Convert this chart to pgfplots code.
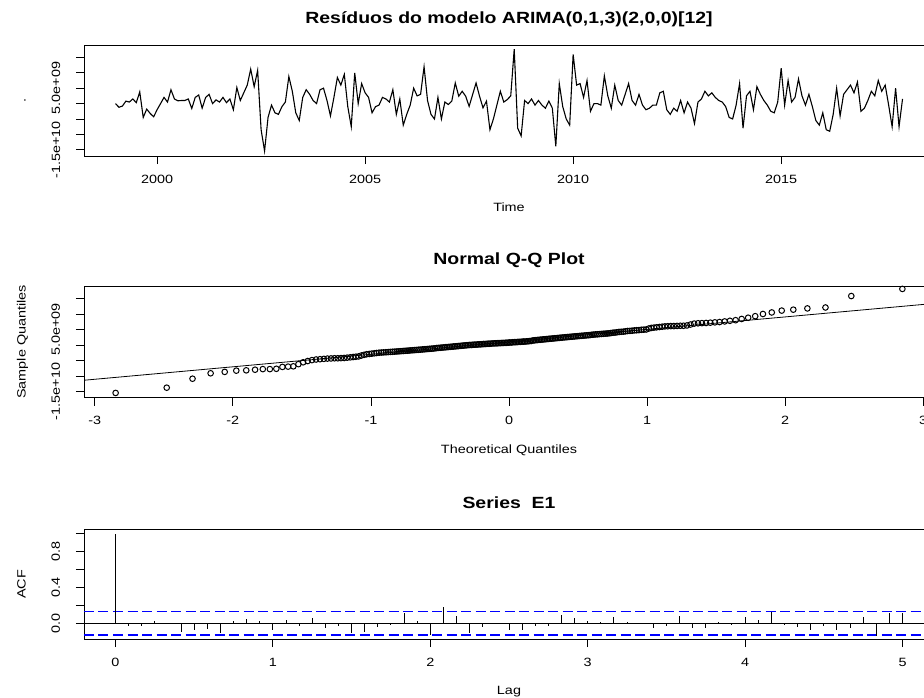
\documentclass[border=0pt]{standalone}
\usepackage{fontspec}
\setmainfont{Liberation Sans}[FakeStretch=1.2]
\usepackage{pgfplots}
\pgfplotsset{compat=1.18}
\usepackage{pgfplotstable}

% residuos mensais 1999-2017 (em 1e9)
\pgfplotstableread[row sep=\\]{
v\\
0.0\\ -1.2\\ -0.8\\ 0.8\\ 0.5\\ 1.5\\ 0.3\\ 3.8\\ -4.5\\ -1.8\\ -3.2\\ -4.3\\
-2.0\\ 0.0\\ 2.0\\ 0.5\\ 4.5\\ 1.5\\ 0.9\\ 1.0\\ 1.0\\ 1.5\\ -1.6\\ 2.0\\
2.8\\ -1.5\\ 2.0\\ 3.0\\ 0.0\\ 1.2\\ 0.5\\ 2.0\\ 0.3\\ 1.5\\ -2.0\\ 5.2\\
1.0\\ 3.5\\ 6.0\\ 11.2\\ 5.5\\ 10.8\\ -8.5\\ -15.4\\ -4.5\\ -0.5\\ -3.0\\ -3.5\\
-1.0\\ 0.5\\ 8.8\\ 4.0\\ -3.0\\ -5.5\\ 2.0\\ 4.5\\ 3.0\\ 1.0\\ 0.0\\ 4.5\\
5.0\\ 1.0\\ -4.0\\ 2.0\\ 8.5\\ 6.0\\ 9.5\\ -1.0\\ -7.5\\ 10.0\\ 0.0\\ 6.5\\
3.5\\ 2.0\\ -3.0\\ -1.0\\ -0.5\\ 2.0\\ 1.5\\ 0.5\\ 4.5\\ -3.5\\ 1.5\\ -7.0\\
-3.5\\ -0.5\\ 5.0\\ 2.5\\ 3.0\\ 12.0\\ 1.0\\ -3.5\\ -5.0\\ 2.0\\ -5.0\\ 0.5\\
-0.3\\ 0.8\\ 6.7\\ 2.4\\ 4.0\\ 2.4\\ -0.9\\ 2.9\\ 6.7\\ 2.4\\ -1.4\\ 0.8\\
-8.5\\ -5.0\\ -0.5\\ 4.0\\ 0.5\\ 1.3\\ 2.5\\ 17.7\\ -8.0\\ -10.5\\ 1.0\\ 0.0\\
1.5\\ -0.5\\ 1.0\\ -0.5\\ -1.5\\ 0.8\\ -1.5\\ -13.9\\ 6.5\\ -1.0\\ -5.0\\ -7.0\\
16.0\\ 6.0\\ 6.5\\ 2.0\\ 7.5\\ -2.5\\ 0.0\\ 0.0\\ -0.5\\ 9.0\\ 2.5\\ -1.5\\
6.0\\ 1.0\\ -0.5\\ 3.0\\ 6.5\\ 1.0\\ -0.5\\ 3.0\\ -0.5\\ -2.0\\ -1.5\\ -0.5\\
-0.5\\ 3.5\\ 4.0\\ -2.0\\ -3.5\\ -1.5\\ -2.5\\ 1.0\\ -3.0\\ 0.5\\ -1.5\\ -6.5\\
0.5\\ 1.5\\ 4.0\\ 2.5\\ 3.5\\ 2.0\\ 1.0\\ 0.5\\ -1.0\\ -4.5\\ -5.0\\ -0.5\\
6.5\\ -8.0\\ 2.5\\ 4.0\\ -2.0\\ 5.5\\ 3.0\\ 1.0\\ -0.5\\ -2.5\\ -3.0\\ 0.5\\
11.5\\ -0.5\\ 7.5\\ 0.5\\ 2.0\\ 8.0\\ 2.5\\ -0.5\\ 3.0\\ -1.0\\ -5.5\\ -7.0\\
-3.0\\ -8.5\\ -9.0\\ -3.5\\ 5.0\\ -4.0\\ 3.0\\ 4.5\\ 6.0\\ 3.5\\ 7.0\\ -2.5\\
-1.5\\ 1.0\\ 4.0\\ 2.5\\ 7.5\\ 4.0\\ 6.0\\ -0.5\\ -7.5\\ 5.0\\ -7.5\\ 1.5\\
}\resid

% quantis teoricos x quantis amostrais (em 1e9)
\pgfplotstableread[row sep=\\]{
q v\\
-2.849 -15.5\\ -2.479 -13.8\\ -2.292 -10.9\\ -2.161 -9.15\\ -2.059 -8.7\\ -1.975 -8.3\\
-1.903 -8.2\\ -1.839 -8.0\\ -1.783 -7.8\\ -1.732 -7.8\\ -1.685 -7.7\\ -1.641 -7.1\\
-1.600 -7.0\\ -1.562 -6.9\\ -1.525 -6.2\\ -1.491 -5.6\\ -1.458 -5.2\\ -1.427 -4.9\\
-1.397 -4.7\\ -1.369 -4.6\\ -1.341 -4.5\\ -1.315 -4.4\\ -1.289 -4.35\\ -1.264 -4.3\\
-1.240 -4.3\\ -1.217 -4.25\\ -1.194 -4.2\\ -1.172 -4.1\\ -1.150 -4.0\\ -1.129 -3.9\\
-1.109 -3.8\\ -1.089 -3.7\\ -1.069 -3.4\\ -1.050 -3.2\\ -1.031 -3.0\\ -1.012 -2.9\\
-0.994 -2.8\\ -0.976 -2.7\\ -0.959 -2.6\\ -0.941 -2.5\\ -0.924 -2.45\\ -0.908 -2.4\\
-0.891 -2.35\\ -0.875 -2.3\\ -0.859 -2.25\\ -0.843 -2.2\\ -0.828 -2.15\\ -0.812 -2.1\\
-0.797 -2.05\\ -0.782 -2.0\\ -0.767 -1.95\\ -0.753 -1.9\\ -0.738 -1.85\\ -0.724 -1.8\\
-0.710 -1.75\\ -0.696 -1.7\\ -0.682 -1.65\\ -0.668 -1.6\\ -0.654 -1.55\\ -0.641 -1.5\\
-0.627 -1.45\\ -0.614 -1.4\\ -0.601 -1.35\\ -0.587 -1.3\\ -0.574 -1.25\\ -0.561 -1.2\\
-0.549 -1.15\\ -0.536 -1.1\\ -0.523 -1.0\\ -0.511 -0.95\\ -0.498 -0.9\\ -0.486 -0.85\\
-0.473 -0.8\\ -0.461 -0.75\\ -0.449 -0.7\\ -0.437 -0.65\\ -0.425 -0.6\\ -0.413 -0.55\\
-0.401 -0.5\\ -0.389 -0.45\\ -0.377 -0.4\\ -0.366 -0.35\\ -0.354 -0.3\\ -0.342 -0.25\\
-0.331 -0.2\\ -0.319 -0.15\\ -0.308 -0.1\\ -0.296 -0.05\\ -0.285 0.0\\ -0.274 0.0\\
-0.262 0.05\\ -0.251 0.1\\ -0.240 0.1\\ -0.228 0.15\\ -0.217 0.2\\ -0.206 0.2\\
-0.195 0.25\\ -0.184 0.3\\ -0.173 0.3\\ -0.161 0.35\\ -0.150 0.4\\ -0.139 0.4\\
-0.128 0.45\\ -0.116 0.5\\ -0.105 0.5\\ -0.094 0.55\\ -0.083 0.55\\ -0.072 0.6\\
-0.061 0.6\\ -0.050 0.65\\ -0.039 0.65\\ -0.027 0.7\\ -0.016 0.7\\ -0.005 0.75\\
0.005 0.8\\ 0.016 0.8\\ 0.027 0.85\\ 0.039 0.9\\ 0.050 0.9\\ 0.061 0.95\\
0.072 1.0\\ 0.083 1.0\\ 0.094 1.05\\ 0.105 1.1\\ 0.116 1.1\\ 0.128 1.15\\
0.139 1.2\\ 0.150 1.25\\ 0.161 1.3\\ 0.173 1.45\\ 0.184 1.5\\ 0.195 1.55\\
0.206 1.6\\ 0.217 1.65\\ 0.228 1.7\\ 0.240 1.75\\ 0.251 1.8\\ 0.262 1.85\\
0.274 1.9\\ 0.285 1.95\\ 0.296 2.0\\ 0.308 2.05\\ 0.319 2.1\\ 0.331 2.15\\
0.342 2.2\\ 0.354 2.25\\ 0.366 2.3\\ 0.377 2.35\\ 0.389 2.4\\ 0.401 2.45\\
0.413 2.5\\ 0.425 2.55\\ 0.437 2.6\\ 0.449 2.65\\ 0.461 2.7\\ 0.473 2.75\\
0.486 2.8\\ 0.498 2.85\\ 0.511 2.9\\ 0.523 2.95\\ 0.536 3.0\\ 0.549 3.05\\
0.561 3.1\\ 0.574 3.15\\ 0.587 3.2\\ 0.601 3.3\\ 0.614 3.35\\ 0.627 3.4\\
0.641 3.45\\ 0.654 3.5\\ 0.668 3.55\\ 0.682 3.6\\ 0.696 3.65\\ 0.710 3.7\\
0.724 3.75\\ 0.738 3.85\\ 0.753 3.95\\ 0.767 4.0\\ 0.782 4.1\\ 0.797 4.2\\
0.812 4.25\\ 0.828 4.3\\ 0.843 4.4\\ 0.859 4.5\\ 0.875 4.55\\ 0.891 4.6\\
0.908 4.7\\ 0.924 4.75\\ 0.941 4.8\\ 0.959 4.9\\ 0.976 4.95\\ 0.994 5.0\\
1.012 5.3\\ 1.031 5.5\\ 1.050 5.6\\ 1.069 5.7\\ 1.089 5.8\\ 1.109 5.9\\
1.129 6.0\\ 1.150 6.05\\ 1.172 6.1\\ 1.194 6.1\\ 1.217 6.15\\ 1.240 6.2\\
1.264 6.2\\ 1.289 6.3\\ 1.315 6.6\\ 1.341 6.9\\ 1.369 7.0\\ 1.397 7.05\\
1.427 7.1\\ 1.458 7.2\\ 1.491 7.3\\ 1.525 7.4\\ 1.562 7.6\\ 1.600 7.8\\
1.641 8.0\\ 1.685 8.4\\ 1.732 8.8\\ 1.783 9.3\\ 1.839 10.0\\ 1.903 10.5\\
1.975 11.1\\ 2.059 11.4\\ 2.161 11.8\\ 2.292 12.1\\ 2.479 15.8\\ 2.849 18.1\\
}\qq

% autocorrelacoes, lags 0..60 (meses)
\pgfplotstableread[row sep=\\]{
r\\
1.0\\ -0.03\\ -0.03\\ 0.025\\ 0.005\\ -0.095\\ -0.07\\ -0.06\\ -0.11\\ 0.025\\ 0.045\\ 0.025\\
-0.07\\ 0.04\\ -0.035\\ 0.055\\ -0.055\\ -0.035\\ -0.11\\ -0.095\\ -0.045\\ -0.02\\ 0.11\\ 0.02\\
-0.13\\ 0.185\\ 0.08\\ -0.105\\ -0.04\\ -0.01\\ -0.07\\ -0.07\\ -0.03\\ -0.03\\ 0.095\\ 0.055\\
0.025\\ 0.015\\ 0.065\\ 0.015\\ 0.005\\ -0.055\\ -0.03\\ 0.08\\ -0.055\\ -0.055\\ 0.015\\ -0.02\\
0.075\\ 0.04\\ 0.13\\ -0.02\\ -0.04\\ -0.08\\ -0.03\\ -0.07\\ -0.055\\ 0.065\\ -0.14\\ 0.11\\
0.11\\
}\acf

\pgfplotsset{
  rpanel/.style={
    scale only axis, width=850pt,
    axis line style={line width=0.8pt},
    tick align=outside, major tick length=8pt,
    tick style={line width=0.8pt, black},
    xtick pos=left, ytick pos=left,
    minor tick num=0,
    every tick label/.append style={font=\fontsize{12}{14}\selectfont},
    xticklabel style={anchor=base, yshift=-19pt},
    yticklabel style={xshift=-16pt, rotate=90, anchor=base},
    every axis x label/.style={at={(axis description cs:0.5,0)}, anchor=base, yshift=-55.7pt, font=\fontsize{12}{14}\selectfont},
    every axis y label/.style={at={(axis description cs:-0.0688,0.5)}, rotate=90, anchor=base, font=\fontsize{12}{14}\selectfont},
    every axis title/.style={at={(axis description cs:0.5,1)}, anchor=base, yshift=21.5pt, font=\fontsize{16.2}{19}\selectfont\bfseries},
    /pgf/number format/assume math mode=true,
    /pgf/number format/1000 sep={},
  },
  resid ticks/.style={
    ymin=-17.04, ymax=19.04,
    ytick={-15,-10,-5,0,5,10,15},
    yticklabels={-1.5e+10,,,,5.0e+09,,},
  },
  ci line/.style={color=blue, line width=1.3pt, dash pattern=on 10pt off 4.5pt, no marks},
}

\begin{document}
\begin{tikzpicture}
  % residuos no tempo
  \begin{axis}[rpanel, resid ticks, height=111pt, at={(84pt,-156pt)}, anchor=south west,
    xmin=1998.243, xmax=2018.673, xtick={2000,2005,2010,2015},
    title={Resíduos do modelo ARIMA(0,1,3)(2,0,0)[12]},
    xlabel={Time}, ylabel={.}]
    \addplot[black, line width=1.1pt, no marks] table[x expr=1999+\coordindex/12, y=v] {\resid};
  \end{axis}

  % qq plot
  \begin{axis}[rpanel, resid ticks, height=111.7pt, at={(84pt,-397.7pt)}, anchor=south west,
    xmin=-3.078, xmax=3.078, xtick={-3,-2,-1,0,1,2,3},
    title={Normal Q-Q Plot},
    xlabel={Theoretical Quantiles}, ylabel={Sample Quantiles}]
    \addplot[only marks, mark=o, mark size=2.8pt, mark options={line width=1pt, black}] table[x=q, y=v] {\qq};
    \addplot[black, line width=0.8pt, no marks] coordinates {(-3.078,-11.40) (3.078,13.40)};
  \end{axis}

  % acf
  \begin{axis}[rpanel, height=109.5pt, at={(84pt,-639pt)}, anchor=south west,
    xmin=-0.2, xmax=5.2, xtick={0,1,2,3,4,5},
    ymin=-0.1752, ymax=1.0452,
    ytick={0,0.2,0.4,0.6,0.8,1.0}, yticklabels={0.0,,0.4,,0.8,},
    title={Series\ \ E1},
    xlabel={Lag}, ylabel={ACF}]
    \addplot[ci line] coordinates {(-0.2,0.1298) (5.2,0.1298)};
    \addplot[ci line] coordinates {(-0.2,-0.1298) (5.2,-0.1298)};
    \addplot[ycomb, black, line width=1pt, no marks] table[x expr=\coordindex/12, y=r] {\acf};
    \addplot[black, line width=0.8pt, no marks] coordinates {(-0.2,0) (5.2,0)};
  \end{axis}

  \pgfresetboundingbox
  \path[use as bounding box] (0,0) rectangle (924pt,-697pt);
\end{tikzpicture}
\end{document}
